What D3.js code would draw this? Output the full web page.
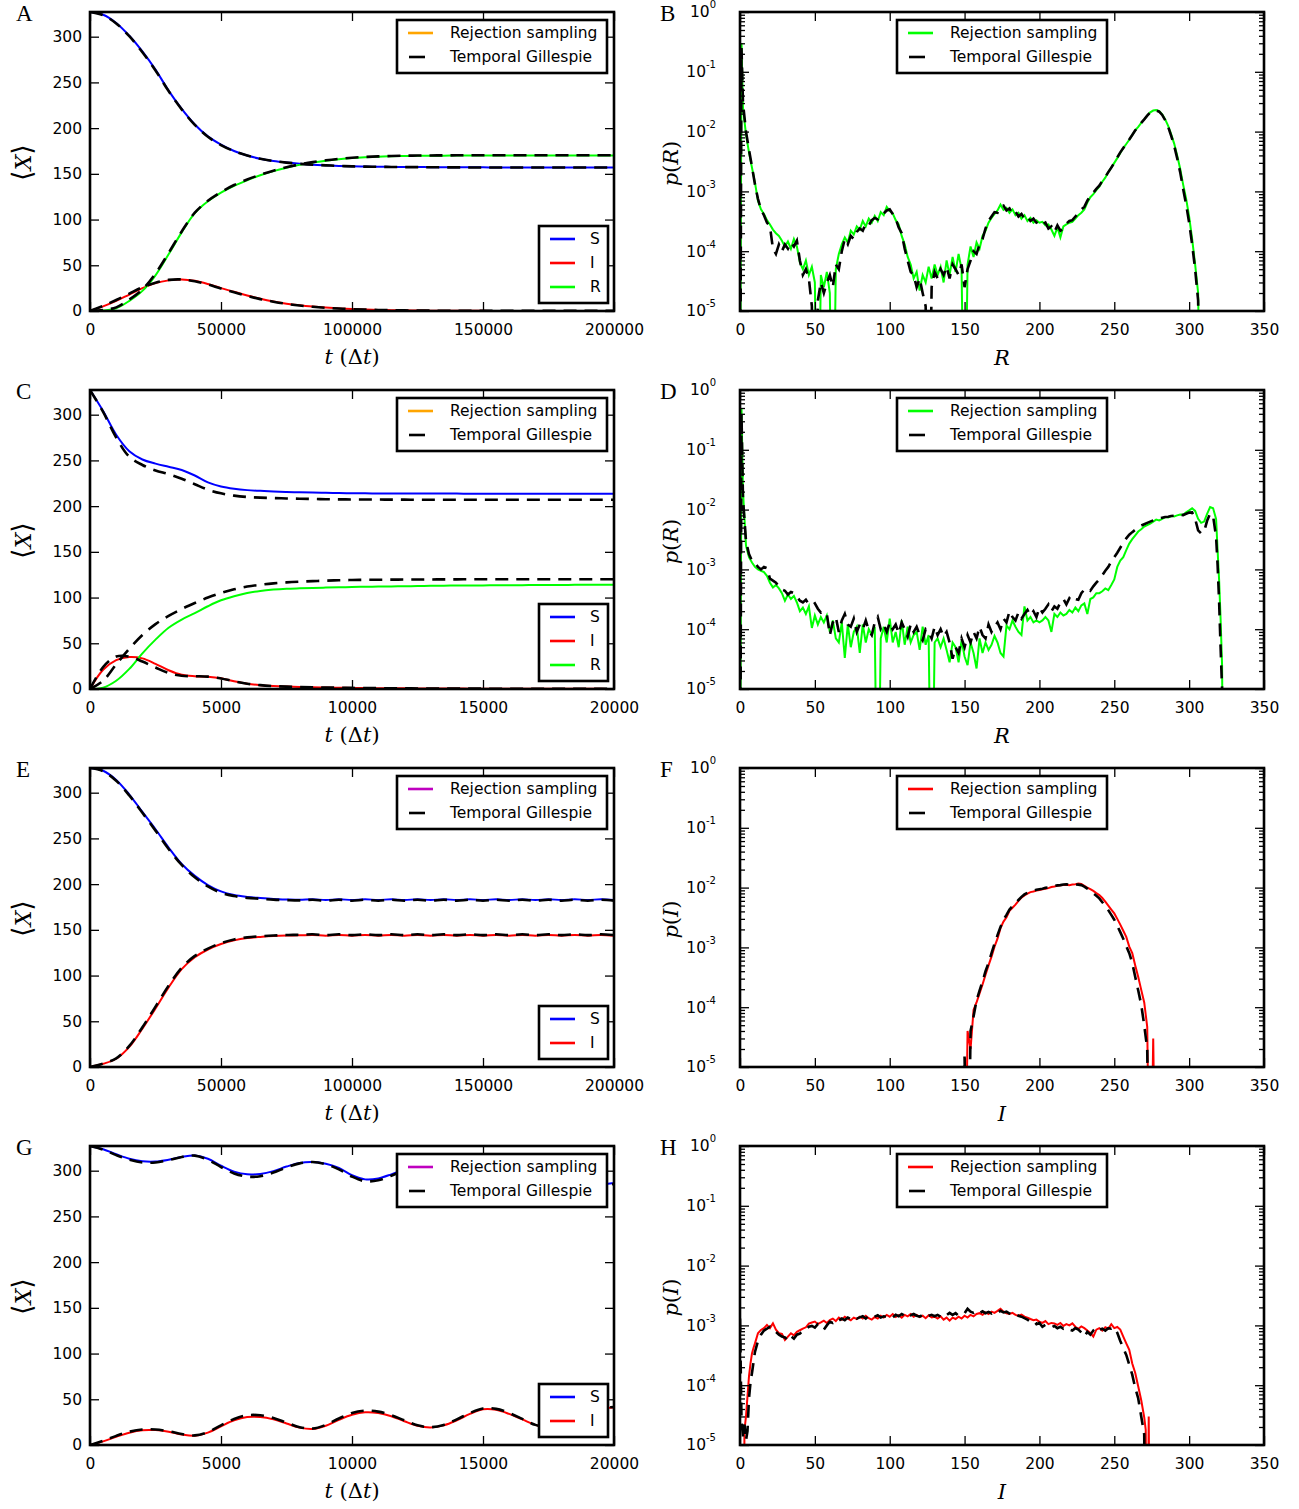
<!DOCTYPE html>
<html><head><meta charset="utf-8">
<script src="https://cdn.jsdelivr.net/npm/d3@7"></script>
<style>body{margin:0;background:#fff} svg{display:block}</style>
</head><body>
<svg id="fig" width="1299" height="1509"></svg>
<script>
// ---------------- DATA ----------------
const legendLabels = ["Rejection sampling", "Temporal Gillespie"];
const yTicksX = [0, 50, 100, 150, 200, 250, 300];
const tTicksLong = [0, 50000, 100000, 150000, 200000];
const tTicksShort = [0, 5000, 10000, 15000, 20000];
const xTicksDist = [0, 50, 100, 150, 200, 250, 300, 350];
const decades = [1e-5, 1e-4, 1e-3, 1e-2, 1e-1, 1];
const decadeExp = ["-5", "-4", "-3", "-2", "-1", "0"];

// time grids
const tLong = d3.range(0, 200001, 5000);
const tShort = d3.range(0, 20001, 500);

// Panel A
const A_S = [327,324,315,301,284,264,241,221,204,191,182,175,170,166.5,164,162.3,161,160,159.3,158.7,158.3,158,157.8,157.6,157.5,157.4,157.3,157.2,157.2,157.1,157.1,157,157,157,157,157,157,157,157,157,157];
const A_I = [0,5,11,18,25,30.5,33.5,34.5,33,29.5,25,21,17,13.5,10.5,8,6.2,4.8,3.7,2.8,2.1,1.6,1.2,0.9,0.7,0.5,0.4,0.3,0.25,0.2,0.15,0.12,0.1,0.1,0.1,0.1,0.1,0.1,0.1,0.1,0.1];
const A_R = [0,0.5,3,11,22,39,62,86,107,120,129.5,137,143,148.5,153,156.7,159.8,162.3,164.3,165.9,167.2,168.1,168.8,169.2,169.5,169.7,169.8,169.9,170,170,170,170,170,170,170,170,170,170,170,170,170];
const A_gS = [327,323.5,314.5,300.5,283,263,240.5,220.5,203.5,190.5,181.5,174.8,170,166.5,164,162.3,161,160,159.3,158.7,158.2,157.9,157.7,157.5,157.4,157.3,157.2,157.1,157.1,157,157,156.9,156.9,156.9,156.9,156.9,156.9,156.9,156.9,156.9,156.9];
const A_gI = [0,5.5,12,19,26,31,34,34.5,32.5,29,24.5,20.5,16.5,13,10.2,7.8,6,4.6,3.5,2.7,2,1.5,1.1,0.85,0.65,0.5,0.4,0.3,0.25,0.2,0.15,0.12,0.1,0.1,0.1,0.1,0.1,0.1,0.1,0.1,0.1];
const A_gR = [0,1,4,12.5,23.5,41,63.5,87,107.5,120.5,130,137.8,143.8,149,153.5,157.2,160.3,162.8,164.8,166.4,167.6,168.5,169.1,169.5,169.8,170,170.1,170.2,170.3,170.4,170.4,170.4,170.4,170.4,170.4,170.4,170.4,170.4,170.4,170.4,170.4];

// Panel C
const C_S = [327,304,278,260,251,246.5,243,239.5,233.5,226,221.5,219,217.5,216.7,216,215.5,215.1,214.8,214.5,214.3,214.1,214,213.9,213.9,213.8,213.8,213.7,213.7,213.7,213.6,213.6,213.6,213.6,213.5,213.5,213.5,213.5,213.5,213.5,213.5,213.5];
const C_I = [0,21,31.5,35,33.5,27.5,20.5,15.5,14,13.5,11.8,8.5,5.8,4.2,3.2,2.6,2.2,1.9,1.6,1.4,1.2,1,0.9,0.8,0.7,0.6,0.55,0.5,0.45,0.4,0.35,0.3,0.3,0.25,0.25,0.2,0.2,0.2,0.15,0.15,0.1];
const C_R = [0,1.5,9,22,39,54,67,76,83,90.5,97,101.5,105,107.3,108.7,109.6,110.1,110.5,110.9,111.2,111.5,111.8,112,112.2,112.4,112.6,112.8,113,113.1,113.2,113.3,113.4,113.5,113.6,113.7,113.8,113.8,113.9,113.9,114,114];
const C_gS = [327,303,275,254,245,239,235,230,224,218,214,211.5,210,209.3,208.8,208.4,208.1,207.8,207.6,207.4,207.3,207.2,207.2,207.1,207.1,207,207,207,207,207,207,207,207,207,207,207,207,207,207,207,207];
const C_gI = [0,24,35.5,35.5,30,23.5,17.5,14.5,14,13.5,11.5,8.5,5.8,4.2,3.2,2.6,2.2,1.9,1.6,1.4,1.2,1,0.9,0.8,0.7,0.6,0.55,0.5,0.45,0.4,0.35,0.3,0.3,0.25,0.25,0.2,0.2,0.2,0.15,0.15,0.1];
const C_gR = [0,9,27,44,59,71,80,87.5,94,100,105,109,112,114,115.5,116.6,117.4,118,118.5,118.9,119.2,119.4,119.5,119.6,119.7,119.8,119.8,119.9,119.9,120,120,120,120,120,120,120,120,120,120,120,120];

// Panel E
const E_S = [327,324,314,298,279,260,240,222,209,199,192,188,186,184.8,183.8,183.2,182.8,183.4,182.7,183.4,182.7,183.4,182.7,183.4,182.7,183.4,182.7,183.4,182.7,183.4,182.7,183.4,182.7,183.4,182.7,183.4,182.7,183.4,182.7,183.4,182.7];
const E_I = [0,3.5,9,22,42,64,87,107,120,128.5,134.5,138.5,141,142.3,143.2,143.7,144,144.4,143.6,144.4,143.6,144.4,143.6,144.4,143.6,144.4,143.6,144.4,143.6,144.4,143.6,144.4,143.6,144.4,143.6,144.4,143.6,144.4,143.6,144.4,143.6];
const E_gS = [327,323.5,313,297,278,258.5,238.5,221,207.5,197.5,190.5,187,185,184,183,182.5,182.2,182.9,181.9,182.9,181.9,182.9,181.9,182.9,181.9,182.9,181.9,182.9,181.9,182.9,181.9,182.9,181.9,182.9,181.9,182.9,181.9,182.9,181.9,182.9,181.9];
const E_gI = [0,3.8,9.5,23,43.5,66,89,108.5,121.5,129.5,135.5,139.5,141.8,143,143.8,144.3,144.6,145.1,144.2,145.1,144.2,145.1,144.2,145.1,144.2,145.1,144.2,145.1,144.2,145.1,144.2,145.1,144.2,145.1,144.2,145.1,144.2,145.1,144.2,145.1,144.2];

// Panel G
const G_S = [327,323.5,318,313,310.3,310,312,315,316.5,313,305.5,299,296,296.5,299.5,304.5,308.5,309.5,307.5,303,295,290.5,291.5,296,301.5,305,306,303,297,290.5,287.5,288.5,293,298,301,300.5,296.5,290.5,286.5,285,286.5];
const G_I = [0,4,9,13.5,16.2,16.3,14.5,11.5,10.2,13.5,20.5,27,30.5,30.5,28,23.5,19,17.5,21,27.5,33,35.8,35,31.5,26,21,19.2,21.5,27,34,39,38.5,34,28,22,19,21,27,34,39.5,41];
const G_gS = [327,323,317,312,309,309,311.5,315,316.5,312,304,297,293.5,294,298,303.5,308,309.5,307,301.5,293.5,288.5,289.5,294.5,300.5,304.5,305.5,302,295.5,289,286,287,292,297,300.5,300,295.5,289.5,285.5,284,285.5];
const G_gI = [0,4.5,10,14.5,17,17,15,12,10.5,14,21.5,28.5,32.5,32.5,29.5,24.5,19.5,18,22,29,35,37.5,36.5,32.5,27,21.5,19.5,22,28,35,40,39.5,35,28.5,22,19,21.5,28,35,40,41.5];

// Panel B  p(R)
const B_bins = [0, 1].concat(d3.range(2, 309, 2));
const B_rej = [0,0.3,0.025,0.009,0.0045,0.0025,0.0014,7e-4,5e-4,4.2e-4,
3.3e-4,2.8e-4,2.3e-4,2e-4,1.8e-4,1.5e-4,1.2e-4,1.45e-4,1.1e-4,1.6e-4,
1.2e-4,6.5e-5,5e-5,7e-5,4e-5,5.5e-5,3e-5,0,4e-5,2.5e-5,
4.5e-5,2e-5,0,5e-5,9e-5,1.3e-4,1.7e-4,1.4e-4,2.2e-4,1.9e-4,
2.6e-4,2.3e-4,3.2e-4,2.6e-4,3.5e-4,3e-4,3.9e-4,3.2e-4,4.5e-4,4e-4,
5.5e-4,4.7e-4,4.3e-4,3.3e-4,2.8e-4,1.8e-4,1.3e-4,8e-5,6e-5,3.5e-5,
4.5e-5,2.2e-5,4e-5,3e-5,5.5e-5,3.5e-5,6e-5,4e-5,5.5e-5,3e-5,
7e-5,4e-5,8e-5,4.5e-5,9e-5,5e-5,0,6e-5,1.2e-4,8e-5,
1.4e-4,1.1e-4,1.8e-4,2.2e-4,3e-4,3.6e-4,4.2e-4,4.8e-4,6e-4,4.9e-4,
5.3e-4,4.4e-4,5e-4,4e-4,4.4e-4,3.5e-4,4e-4,3.2e-4,3.6e-4,3e-4,
3.3e-4,3e-4,3.1e-4,2.7e-4,2.8e-4,2.3e-4,1.8e-4,2.5e-4,1.7e-4,2.6e-4,
2.8e-4,3e-4,3.1e-4,3.5e-4,4e-4,4.4e-4,5e-4,6.5e-4,8e-4,9e-4,
1.05e-3,1.2e-3,1.45e-3,1.7e-3,2.1e-3,2.5e-3,3e-3,3.6e-3,4.4e-3,5.3e-3,
6.2e-3,7.3e-3,8.8e-3,1.05e-2,1.2e-2,1.4e-2,1.6e-2,1.85e-2,2.1e-2,2.25e-2,
2.3e-2,2.2e-2,1.95e-2,1.6e-2,1.25e-2,9e-3,6.3e-3,4e-3,2.4e-3,1.3e-3,
7.5e-4,3.8e-4,1.6e-4,6e-5,2e-5,0];
const B_gil = [0,0.25,0.03,0.01,0.005,0.0026,0.0013,7.5e-4,5e-4,4e-4,
3e-4,2.6e-4,1.1e-4,9e-5,1.3e-4,1e-4,1.3e-4,1.1e-4,1.4e-4,1.2e-4,
1.5e-4,7e-5,4e-5,5e-5,3.5e-5,1.2e-5,0,1.5e-5,3e-5,2e-5,
3e-5,4e-5,2.5e-5,6e-5,5e-5,1e-4,1.6e-4,1.3e-4,1.8e-4,1.6e-4,
2.1e-4,2.4e-4,2.2e-4,2.9e-4,2.7e-4,3.3e-4,3.6e-4,3.4e-4,4e-4,4.3e-4,
4.8e-4,5e-4,4.2e-4,3.5e-4,2.5e-4,2e-4,1.1e-4,7e-5,4.5e-5,4e-5,
2.5e-5,3.5e-5,2e-5,1.2e-5,0,2.5e-5,4.5e-5,3.5e-5,5e-5,4e-5,
5.5e-5,3.5e-5,6e-5,5e-5,4e-5,6e-5,2.5e-5,5e-5,7e-5,1e-4,
9e-5,1.3e-4,1.6e-4,2.4e-4,3.2e-4,3.8e-4,4.5e-4,4.4e-4,5.5e-4,5.8e-4,
4.8e-4,5.2e-4,4.2e-4,4.6e-4,3.8e-4,4.2e-4,3.5e-4,3.8e-4,3.2e-4,3.5e-4,
3e-4,3.2e-4,2.8e-4,3e-4,2.4e-4,2.6e-4,2.1e-4,2.7e-4,2.2e-4,2.4e-4,
2.9e-4,3.2e-4,3.3e-4,3.8e-4,4.3e-4,5e-4,5.5e-4,7e-4,8.5e-4,9.5e-4,
1.1e-3,1.25e-3,1.5e-3,1.75e-3,2.1e-3,2.5e-3,3e-3,3.7e-3,4.5e-3,5.3e-3,
6.3e-3,7.4e-3,8.8e-3,1.05e-2,1.2e-2,1.4e-2,1.6e-2,1.85e-2,2.1e-2,2.2e-2,
2.25e-2,2.15e-2,1.9e-2,1.55e-2,1.2e-2,8.5e-3,5.8e-3,3.6e-3,2.1e-3,1.1e-3,
6e-4,3e-4,1.3e-4,5e-5,1.5e-5,0];

// Panel D  p(R)
const D_bins = [0, 1].concat(d3.range(2, 319, 2), [319, 320, 321, 322, 323]);
const D_rej = [0,0.5,0.02,2.5e-3,1.6e-3,1.3e-3,1.1e-3,1e-3,9.5e-4,9e-4,
7.8e-4,6e-4,5e-4,5.5e-4,4.8e-4,4e-4,3e-4,3.8e-4,3.2e-4,3.6e-4,
2.8e-4,2e-4,2.3e-4,1.8e-4,2.4e-4,1.05e-4,1.7e-4,1.2e-4,1.6e-4,1.3e-4,
1.7e-4,9e-5,1.4e-4,7e-5,6e-5,1.3e-4,3.3e-5,1.2e-4,5e-5,9e-5,
1.1e-4,4e-5,1.2e-4,6e-5,1e-4,8e-5,1.1e-4,0,7e-5,1.1e-4,
6e-5,1.5e-4,6e-5,9e-5,5e-5,1.4e-4,5.5e-5,1.1e-4,6e-5,8e-5,
9e-5,4.5e-5,1.1e-4,5.5e-5,8e-5,0,6e-5,7e-5,5e-5,7e-5,
4.5e-5,2.8e-5,6e-5,5e-5,2.8e-5,6.5e-5,3.5e-5,2.5e-5,6e-5,4e-5,
2.2e-5,7e-5,4e-5,6e-5,4.5e-5,5.5e-5,7.7e-5,6e-5,4e-5,3.5e-5,
1.15e-4,1e-4,1.4e-4,1.1e-4,9e-5,8e-5,2.4e-4,1.4e-4,1.6e-4,1.3e-4,
1.4e-4,1.3e-4,1.4e-4,1.6e-4,1.4e-4,9e-5,1.8e-4,1.6e-4,1.9e-4,1.7e-4,
1.8e-4,2.1e-4,1.9e-4,2.3e-4,2e-4,2.5e-4,2.7e-4,1.8e-4,3.2e-4,3.4e-4,
4e-4,4e-4,4.3e-4,4.8e-4,4.5e-4,5.5e-4,6.8e-4,1.1e-3,1.4e-3,1.6e-3,
2.1e-3,2.7e-3,3.2e-3,3.7e-3,4.3e-3,4.7e-3,5.2e-3,5.5e-3,5.8e-3,6.3e-3,
6.8e-3,6.6e-3,7e-3,7.5e-3,7.4e-3,7.8e-3,7.7e-3,8e-3,8.3e-3,8.2e-3,
9e-3,9.7e-3,1.05e-2,9.5e-3,7e-3,6e-3,6.3e-3,8.5e-3,1.1e-2,1.05e-2,
7e-3,2.1e-3,6.8e-4,1.5e-4,2.5e-5,0];
const D_gil = [0,0.4,0.015,3e-3,1.8e-3,1.4e-3,1.3e-3,1.1e-3,1e-3,1.1e-3,
1.05e-3,7e-4,6.5e-4,6e-4,5.2e-4,4.6e-4,4.4e-4,3.8e-4,4.2e-4,4e-4,
3.5e-4,3e-4,2.8e-4,3.1e-4,2.6e-4,2.5e-4,2.7e-4,2.2e-4,1.9e-4,2e-4,
1.8e-4,8e-5,1.3e-4,1.6e-4,9e-5,1.4e-4,1.8e-4,1.2e-4,1.1e-4,1.5e-4,
9e-5,1.2e-4,1e-4,1.4e-4,9.5e-5,8e-5,1.3e-4,1.6e-4,1e-4,1.2e-4,
9e-5,1.3e-4,1e-4,1.2e-4,8.5e-5,1.3e-4,1e-4,7.5e-5,1.2e-4,9e-5,
1.1e-4,8e-5,6.5e-5,1e-4,9e-5,7e-5,1.1e-4,8e-5,1e-4,7.5e-5,
9e-5,6e-5,3.2e-5,5e-5,4e-5,7e-5,5e-5,8e-5,6e-5,9e-5,
7e-5,1.1e-4,8e-5,7e-5,1.2e-4,9e-5,1.1e-4,1.3e-4,1e-4,1.5e-4,
1.3e-4,2e-4,1.6e-4,1.4e-4,1.9e-4,1.5e-4,1.8e-4,2.1e-4,1.7e-4,2e-4,
1.6e-4,2.3e-4,1.9e-4,2.2e-4,2.6e-4,2e-4,2.4e-4,2.2e-4,2.8e-4,3.2e-4,
2.6e-4,3.3e-4,2.9e-4,3.2e-4,3.1e-4,4e-4,4.6e-4,4.8e-4,4.4e-4,5.2e-4,
6e-4,6.8e-4,8e-4,9.5e-4,1.1e-3,1.35e-3,1.6e-3,1.9e-3,2.3e-3,2.8e-3,
3.3e-3,3.8e-3,4.2e-3,4.6e-3,5e-3,5.4e-3,5.7e-3,6e-3,6.3e-3,6.6e-3,
6.9e-3,7.1e-3,7.3e-3,7.5e-3,7.6e-3,7.8e-3,7.9e-3,8e-3,8.2e-3,8.1e-3,
8.5e-3,8.9e-3,9e-3,7e-3,4.5e-3,4e-3,4.3e-3,6.5e-3,8.5e-3,7.8e-3,
3.5e-3,1.2e-3,3e-4,5e-5,1e-5,0];

// Panel F  p(I)
const F_bins = d3.range(148, 281, 2);
const F_rej = [0,0,4e-5,2e-5,9e-5,1.2e-4,1.7e-4,2.4e-4,3.5e-4,5e-4,
7e-4,1.03e-3,1.4e-3,2.1e-3,2.7e-3,3.2e-3,4.1e-3,4.6e-3,5.2e-3,6e-3,
6.8e-3,7.4e-3,7.9e-3,8.4e-3,8.6e-3,8.9e-3,9.1e-3,9.4e-3,9.6e-3,9.8e-3,
1.02e-2,1.04e-2,1.07e-2,1.09e-2,1.1e-2,1.12e-2,1.1e-2,1.13e-2,1.14e-2,1.17e-2,
1.15e-2,1.07e-2,1e-2,9.4e-3,8.8e-3,8.1e-3,7.5e-3,6.7e-3,5.8e-3,5e-3,
4.3e-3,3.7e-3,3e-3,2.4e-3,1.9e-3,1.5e-3,1.03e-3,8e-4,5e-4,3.2e-4,
1.95e-4,1.2e-4,4.7e-5,0,3e-5,0,0];
const F_gil = [0,1.5e-5,0,4e-5,7e-5,1.3e-4,1.9e-4,2.7e-4,4e-4,5.5e-4,
8e-4,1.15e-3,1.6e-3,2.2e-3,2.9e-3,3.5e-3,4.3e-3,4.9e-3,5.5e-3,6.2e-3,
7e-3,7.7e-3,8.2e-3,8.6e-3,8.9e-3,9.2e-3,9.4e-3,9.6e-3,9.9e-3,1.01e-2,
1.04e-2,1.06e-2,1.09e-2,1.1e-2,1.13e-2,1.14e-2,1.12e-2,1.15e-2,1.13e-2,1.12e-2,
1.1e-2,1.04e-2,9.6e-3,8.8e-3,8e-3,7.3e-3,6.6e-3,5.7e-3,4.9e-3,4.2e-3,
3.5e-3,2.9e-3,2.3e-3,1.8e-3,1.4e-3,1.05e-3,8e-4,5.5e-4,3.2e-4,1.9e-4,
1.1e-4,5e-5,2e-5,0,0,0,0];

// Panel H  p(I)
const H_bins = [0,1,2,3,4,5,6,7,8,9].concat(d3.range(10, 271, 2), [271, 272, 273, 274, 275]);
const H_rej = [0,0,0,1.8e-5,3e-5,6.5e-5,1.4e-4,2.3e-4,3.4e-4,4.2e-4,
5e-4,7.4e-4,8.4e-4,9e-4,1.02e-3,9e-4,1.08e-3,8.5e-4,7.4e-4,7.2e-4,
5.7e-4,6.5e-4,7.4e-4,6.8e-4,7.8e-4,8.3e-4,8.8e-4,9.3e-4,1.07e-3,1.12e-3,
1.16e-3,1.05e-3,1.12e-3,1.2e-3,1.1e-3,1.23e-3,1.3e-3,1.18e-3,1.35e-3,1.25e-3,
1.4e-3,1.3e-3,1.22e-3,1.35e-3,1.28e-3,1.4e-3,1.3e-3,1.45e-3,1.32e-3,1.25e-3,
1.38e-3,1.3e-3,1.45e-3,1.35e-3,1.5e-3,1.4e-3,1.55e-3,1.38e-3,1.48e-3,1.35e-3,
1.5e-3,1.42e-3,1.55e-3,1.4e-3,1.5e-3,1.38e-3,1.45e-3,1.32e-3,1.48e-3,1.36e-3,
1.4e-3,1.3e-3,1.42e-3,1.25e-3,1.35e-3,1.2e-3,1.35e-3,1.28e-3,1.4e-3,1.3e-3,
1.45e-3,1.35e-3,1.5e-3,1.42e-3,1.55e-3,1.6e-3,1.5e-3,1.65e-3,1.55e-3,1.7e-3,
1.62e-3,1.75e-3,1.9e-3,1.7e-3,1.6e-3,1.55e-3,1.62e-3,1.5e-3,1.45e-3,1.52e-3,
1.4e-3,1.35e-3,1.28e-3,1.22e-3,1.25e-3,1.15e-3,1.1e-3,1.18e-3,1.05e-3,1.1e-3,
1.08e-3,1.02e-3,1.1e-3,9.8e-4,1.05e-3,1e-3,1.08e-3,9.5e-4,8.8e-4,9.6e-4,
9e-4,8.2e-4,7.5e-4,6.5e-4,8.5e-4,9e-4,8.2e-4,9.3e-4,8.8e-4,1.05e-3,
9e-4,9.4e-4,8.5e-4,6.5e-4,5e-4,3.9e-4,2.3e-4,1.6e-4,9.5e-5,5.6e-5,
2.9e-5,1.8e-5,0,3e-5,0,0];
const H_gil = [1.3e-3,2.6e-5,1.4e-5,2.2e-5,1.2e-5,1.7e-5,6e-5,1.1e-4,1.6e-4,2.4e-4,
3.6e-4,5.5e-4,7e-4,8.2e-4,8.8e-4,9.5e-4,8.4e-4,7.8e-4,7e-4,6.5e-4,
6.3e-4,5.6e-4,6.6e-4,6e-4,7e-4,7.3e-4,8.2e-4,8.5e-4,9.5e-4,9.8e-4,
9.2e-4,1.05e-3,9.5e-4,8.5e-4,1e-3,1.15e-3,1.1e-3,1.25e-3,1.2e-3,1.3e-3,
1.22e-3,1.35e-3,1.28e-3,1.4e-3,1.3e-3,1.36e-3,1.42e-3,1.3e-3,1.45e-3,1.35e-3,
1.4e-3,1.48e-3,1.35e-3,1.42e-3,1.38e-3,1.45e-3,1.35e-3,1.5e-3,1.42e-3,1.55e-3,
1.45e-3,1.6e-3,1.48e-3,1.55e-3,1.45e-3,1.4e-3,1.5e-3,1.38e-3,1.45e-3,1.5e-3,
1.42e-3,1.5e-3,1.4e-3,1.55e-3,1.48e-3,1.62e-3,1.5e-3,1.6e-3,1.45e-3,1.5e-3,
1.6e-3,1.9e-3,1.7e-3,1.62e-3,1.75e-3,1.6e-3,1.72e-3,1.6e-3,1.68e-3,1.58e-3,
1.7e-3,1.62e-3,1.75e-3,1.65e-3,1.7e-3,1.58e-3,1.5e-3,1.58e-3,1.45e-3,1.4e-3,
1.32e-3,1.25e-3,1.15e-3,1.2e-3,1.05e-3,1.1e-3,9.5e-4,1.02e-3,9.8e-4,9.2e-4,
9.8e-4,9e-4,9.5e-4,8.8e-4,9.2e-4,8.5e-4,8.2e-4,9e-4,8.5e-4,7.6e-4,
6.5e-4,7.8e-4,7e-4,8.2e-4,7.5e-4,8.5e-4,8.8e-4,8.2e-4,9e-4,8.8e-4,
9.2e-4,7.5e-4,5.5e-4,4.2e-4,3.2e-4,2.2e-4,1.5e-4,9e-5,6e-5,3e-5,
1.5e-5,0,0,0,0,0];

// ---------------- DRAWING ----------------
const svg = d3.select('#fig');
const PW = 524, PH = 299;
const COLX = [90, 740];
const ROWY = [12, 390, 768, 1146];
const FS = 15.5;
const SANS = "'DejaVu Sans', sans-serif";
const SERIF = "'DejaVu Serif', serif";
const LETTER = "'Liberation Serif', serif";
const DASH = "13,8";
const C = {blue:'#0000ff', red:'#ff0000', green:'#00ff00', orange:'#ffa500', magenta:'#bf00bf', black:'#000'};
let clipN = 0;

function base(col, row) {
  const L = COLX[col], T = ROWY[row];
  return {L, T, R: L + PW, B: T + PH};
}
function clipGroup(p) {
  const id = 'clip' + (clipN++);
  svg.append('clipPath').attr('id', id).append('rect')
    .attr('x', p.L).attr('y', p.T).attr('width', PW).attr('height', PH);
  return svg.append('g').attr('clip-path', `url(#${id})`);
}
function styleAxis(g) {
  g.select('.domain').remove();
  g.attr('font-family', SANS).attr('font-size', FS);
  g.selectAll('.tick line').attr('stroke', '#000').attr('stroke-width', 1.3);
  g.selectAll('.tick text').attr('fill', '#000');
}
function frame(p) {
  svg.append('rect').attr('x', p.L).attr('y', p.T).attr('width', PW).attr('height', PH)
    .attr('fill', 'none').attr('stroke', '#000').attr('stroke-width', 2.6);
}
function legend(x, y, w, entries, textDx) {
  const h = 24 * entries.length + 5;
  const g = svg.append('g');
  g.append('rect').attr('x', x).attr('y', y).attr('width', w).attr('height', h)
    .attr('fill', '#fff').attr('stroke', '#000').attr('stroke-width', 2.6);
  entries.forEach((e, i) => {
    const cy = y + 13 + 24 * i;
    g.append('line').attr('x1', e.dashed ? x + 12 : x + 11).attr('x2', e.dashed ? x + 28 : x + 36)
      .attr('y1', cy).attr('y2', cy)
      .attr('stroke', e.color).attr('stroke-width', 2.6);
    g.append('text').attr('x', x + textDx).attr('y', cy).attr('dy', '0.35em')
      .attr('font-family', SANS).attr('font-size', FS).text(e.label);
  });
  return h;
}
function letter(p, col, s) {
  svg.append('text').attr('x', col === 0 ? 16 : 660).attr('y', p.T + 9)
    .attr('font-family', LETTER).attr('font-size', 23).text(s);
}
function xlabelT(p) {
  const t = svg.append('text').attr('x', p.L + PW / 2).attr('y', p.B + 53)
    .attr('text-anchor', 'middle').attr('font-family', SERIF).attr('font-size', 21);
  t.append('tspan').attr('font-style', 'italic').text('t');
  t.append('tspan').text(' (Δ');
  t.append('tspan').attr('font-style', 'italic').text('t');
  t.append('tspan').text(')');
}
function xlabelVar(p, v) {
  svg.append('text').attr('x', p.L + PW / 2).attr('y', p.B + 54)
    .attr('text-anchor', 'middle').attr('font-family', SERIF).attr('font-size', 21)
    .attr('font-style', 'italic').text(v);
}
function ylabelX(p) {
  const t = svg.append('text').attr('transform', `translate(23,${p.T + PH / 2 + 1}) rotate(-90)`)
    .attr('text-anchor', 'middle').attr('dy', '0.35em').attr('font-family', SERIF).attr('font-size', 22);
  t.append('tspan').attr('font-size', 27).attr('font-family', "'DejaVu Sans', sans-serif").text('⟨');
  t.append('tspan').attr('font-style', 'italic').text('X');
  t.append('tspan').attr('font-size', 27).attr('font-family', "'DejaVu Sans', sans-serif").text('⟩');
}
function ylabelP(p, v) {
  const t = svg.append('text').attr('transform', `translate(671,${p.T + PH / 2 + 2}) rotate(-90)`)
    .attr('text-anchor', 'middle').attr('dy', '0.35em').attr('font-family', SERIF).attr('font-size', 21);
  t.append('tspan').attr('font-style', 'italic').text('p');
  t.append('tspan').text('(');
  t.append('tspan').attr('font-style', 'italic').text(v);
  t.append('tspan').text(')');
}

function timePanel(o) {
  const p = base(0, o.row);
  const x = d3.scaleLinear().domain([0, o.tMax]).range([p.L, p.R]);
  const y = d3.scaleLinear().domain([0, 327]).range([p.B, p.T]);
  const cg = clipGroup(p);
  const line = d3.line().x((d, i) => x(o.t[i])).y(d => y(d)).curve(d3.curveCatmullRom.alpha(0.5));
  o.series.filter(s => !s.dashed).forEach(s => cg.append('path').attr('d', line(s.values))
    .attr('fill', 'none').attr('stroke', s.color).attr('stroke-width', 2));
  o.series.filter(s => s.dashed).forEach(s => cg.append('path').attr('d', line(s.values))
    .attr('fill', 'none').attr('stroke', '#000').attr('stroke-width', 2.6).attr('stroke-dasharray', DASH));
  svg.append('g').attr('transform', `translate(0,${p.B})`)
    .call(d3.axisBottom(x).tickValues(o.ticks).tickSize(-9).tickPadding(13).tickFormat(d3.format('d'))).call(styleAxis);
  svg.append('g').attr('transform', `translate(0,${p.T})`)
    .call(d3.axisTop(x).tickValues(o.ticks).tickSize(-9).tickFormat('')).call(styleAxis);
  svg.append('g').attr('transform', `translate(${p.L},0)`)
    .call(d3.axisLeft(y).tickValues(yTicksX).tickSize(-9).tickPadding(8).tickFormat(d3.format('d'))).call(styleAxis);
  svg.append('g').attr('transform', `translate(${p.R},0)`)
    .call(d3.axisRight(y).tickValues(yTicksX).tickSize(-9).tickFormat('')).call(styleAxis);
  frame(p);
  legend(p.R - 217, p.T + 8, 210, [
    {label: legendLabels[0], color: o.rejColor},
    {label: legendLabels[1], color: '#000', dashed: true}], 53);
  const h = 24 * o.keys.length + 5;
  legend(p.R - 75, p.B - 8 - h, 69, o.keys, 51);
  letter(p, 0, o.letter);
  xlabelT(p);
  ylabelX(p);
}

function distPanel(o) {
  const p = base(1, o.row);
  const x = d3.scaleLinear().domain([0, 350]).range([p.L, p.R]);
  const y = d3.scaleLog().domain([1e-5, 1]).range([p.B, p.T]);
  const cg = clipGroup(p);
  const line = d3.line().x((d, i) => x(o.bins[i])).y(d => y(Math.max(d, 1e-8)));
  cg.append('path').attr('d', line(o.rej)).attr('fill', 'none').attr('stroke', o.color).attr('stroke-width', 2);
  cg.append('path').attr('d', line(o.gil)).attr('fill', 'none').attr('stroke', '#000')
    .attr('stroke-width', 2.6).attr('stroke-dasharray', DASH);
  const minor = [];
  for (let k = -5; k < 0; k++) for (let m = 2; m <= 9; m++) minor.push(m * Math.pow(10, k));
  svg.append('g').attr('transform', `translate(0,${p.B})`)
    .call(d3.axisBottom(x).tickValues(xTicksDist).tickSize(-9).tickPadding(13).tickFormat(d3.format('d'))).call(styleAxis);
  svg.append('g').attr('transform', `translate(0,${p.T})`)
    .call(d3.axisTop(x).tickValues(xTicksDist).tickSize(-9).tickFormat('')).call(styleAxis);
  [[d3.axisLeft, p.L], [d3.axisRight, p.R]].forEach(([ax, pos]) => {
    svg.append('g').attr('transform', `translate(${pos},0)`)
      .call(ax(y).tickValues(decades).tickSize(-9).tickFormat('')).call(styleAxis);
    svg.append('g').attr('transform', `translate(${pos},0)`)
      .call(ax(y).tickValues(minor).tickSize(-5).tickFormat('')).call(styleAxis);
  });
  decades.forEach((v, i) => {
    const t = svg.append('text').attr('x', p.L - 24).attr('y', y(v))
      .attr('text-anchor', 'end').attr('font-family', SANS).attr('font-size', FS);
    t.append('tspan').attr('dy', 5.4).text('10');
    t.append('tspan').attr('dy', -9).attr('font-size', 10).text(decadeExp[i]);
  });
  frame(p);
  legend(p.L + PW / 2 - 105, p.T + 8, 210, [
    {label: legendLabels[0], color: o.color},
    {label: legendLabels[1], color: '#000', dashed: true}], 53);
  letter(p, 1, o.letter);
  xlabelVar(p, o.v);
  ylabelP(p, o.v);
}

timePanel({row: 0, letter: 'A', t: tLong, tMax: 200000, ticks: tTicksLong, rejColor: C.orange,
  series: [{values: A_S, color: C.blue}, {values: A_I, color: C.red}, {values: A_R, color: C.green},
           {values: A_gS, dashed: true}, {values: A_gI, dashed: true}, {values: A_gR, dashed: true}],
  keys: [{label: 'S', color: C.blue}, {label: 'I', color: C.red}, {label: 'R', color: C.green}]});
timePanel({row: 1, letter: 'C', t: tShort, tMax: 20000, ticks: tTicksShort, rejColor: C.orange,
  series: [{values: C_S, color: C.blue}, {values: C_I, color: C.red}, {values: C_R, color: C.green},
           {values: C_gS, dashed: true}, {values: C_gI, dashed: true}, {values: C_gR, dashed: true}],
  keys: [{label: 'S', color: C.blue}, {label: 'I', color: C.red}, {label: 'R', color: C.green}]});
timePanel({row: 2, letter: 'E', t: tLong, tMax: 200000, ticks: tTicksLong, rejColor: C.magenta,
  series: [{values: E_S, color: C.blue}, {values: E_I, color: C.red},
           {values: E_gS, dashed: true}, {values: E_gI, dashed: true}],
  keys: [{label: 'S', color: C.blue}, {label: 'I', color: C.red}]});
timePanel({row: 3, letter: 'G', t: tShort, tMax: 20000, ticks: tTicksShort, rejColor: C.magenta,
  series: [{values: G_S, color: C.blue}, {values: G_I, color: C.red},
           {values: G_gS, dashed: true}, {values: G_gI, dashed: true}],
  keys: [{label: 'S', color: C.blue}, {label: 'I', color: C.red}]});

distPanel({row: 0, letter: 'B', bins: B_bins, rej: B_rej, gil: B_gil, color: C.green, v: 'R'});
distPanel({row: 1, letter: 'D', bins: D_bins, rej: D_rej, gil: D_gil, color: C.green, v: 'R'});
distPanel({row: 2, letter: 'F', bins: F_bins, rej: F_rej, gil: F_gil, color: C.red, v: 'I'});
distPanel({row: 3, letter: 'H', bins: H_bins, rej: H_rej, gil: H_gil, color: C.red, v: 'I'});
</script>
</body></html>
